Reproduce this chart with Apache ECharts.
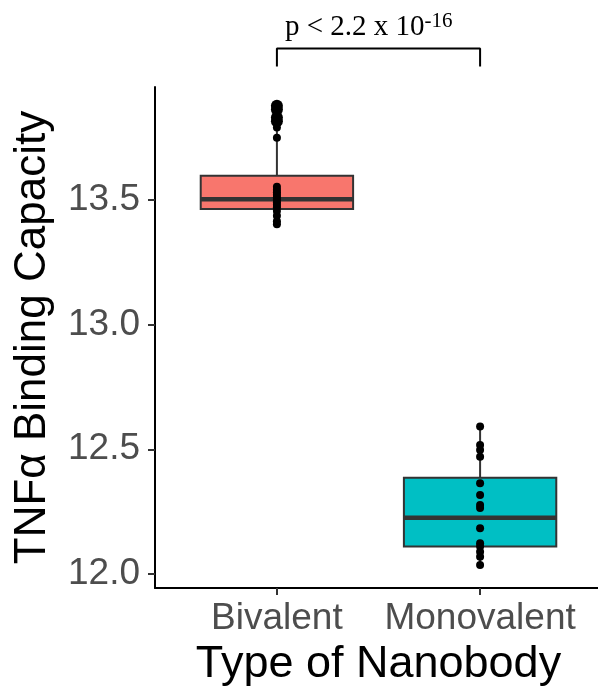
<!DOCTYPE html>
<html lang="en">
<head>
    <meta charset="UTF-8">
    <script src="https://cdn.jsdelivr.net/npm/echarts@6/dist/echarts.min.js"></script>
    <title>TNFa binding</title>
    <style>
        html, body { margin: 0; padding: 0; background: #fff; }
        #chart { width: 598px; height: 691px; }
    </style>
</head>
<body>
    <div id="chart"></div>
    <script>
        // categories and box stats: [min, Q1, median, Q3, max]
        let categories = ['Bivalent', 'Monovalent'];
        let boxColors = ['#F8766D', '#00BFC4'];
        let bivalentBox = [13.40, 13.463, 13.502, 13.596, 13.79];
        let monovalentBox = [12.036, 12.11, 12.226, 12.386, 12.591];

        // individual measurements
        let bivalentPoints = [13.79, 13.749, 13.552, 13.54, 13.53, 13.52, 13.51, 13.50, 13.49,
            13.48, 13.47, 13.455, 13.436, 13.414, 13.402];
        let bivalentOutliers = [13.877, 13.862, 13.83, 13.815];
        let monovalentPoints = [12.591, 12.517, 12.497, 12.47, 12.364, 12.317, 12.277, 12.265,
            12.183, 12.123, 12.11, 12.089, 12.069, 12.036];

        let yTicks = [12.0, 12.5, 13.0, 13.5];
        let bracketX = [1, 1, 2, 2];
        let bracketY = [14.034, 14.106, 14.106, 14.034];

        let font = '"Liberation Sans", Arial, Helvetica, sans-serif';
        let serif = '"Liberation Serif", "Times New Roman", serif';

        function toPairs(x, values) {
            return values.map(function (v) { return [x, v]; });
        }

        let boxData = [[1].concat(bivalentBox), [2].concat(monovalentBox)];

        function renderBox(params, api) {
            let x = api.value(0);
            let half = api.size([0.75, 0])[0] / 2;
            let pMin = api.coord([x, api.value(1)]);
            let pQ1 = api.coord([x, api.value(2)]);
            let pMed = api.coord([x, api.value(3)]);
            let pQ3 = api.coord([x, api.value(4)]);
            let pMax = api.coord([x, api.value(5)]);
            let stroke = { stroke: '#333333', lineWidth: 2 };
            return {
                type: 'group',
                children: [
                    { type: 'line', shape: { x1: pQ3[0], y1: pQ3[1], x2: pMax[0], y2: pMax[1] }, style: stroke },
                    { type: 'line', shape: { x1: pQ1[0], y1: pQ1[1], x2: pMin[0], y2: pMin[1] }, style: stroke },
                    {
                        type: 'rect',
                        shape: { x: pQ3[0] - half, y: pQ3[1], width: half * 2, height: pQ1[1] - pQ3[1] },
                        style: { fill: boxColors[params.dataIndex], stroke: '#333333', lineWidth: 2 }
                    },
                    {
                        type: 'line',
                        shape: { x1: pMed[0] - half, y1: pMed[1], x2: pMed[0] + half, y2: pMed[1] },
                        style: { stroke: '#333333', lineWidth: 4.5 }
                    }
                ]
            };
        }

        let option = {
            backgroundColor: '#fff',
            animation: false,
            title: {
                left: 280,
                top: 6,
                text: '{m|p < 2.2 x 10}{s|-16}',
                textStyle: {
                    rich: {
                        m: { fontFamily: serif, fontSize: 29, fontWeight: 'normal', color: '#000', lineHeight: 32 },
                        s: { fontFamily: serif, fontSize: 21, fontWeight: 'normal', color: '#000', verticalAlign: 'top', padding: [0, 0, 12, 0] }
                    }
                }
            },
            grid: {
                left: 155,
                right: -4,
                top: 87,
                bottom: 103,
                outerBoundsMode: 'none'
            },
            xAxis: {
                type: 'value',
                min: 0.4,
                max: 2.6,
                splitLine: { show: false },
                axisLine: { show: true, lineStyle: { color: '#000', width: 2 } },
                axisTick: { show: true, customValues: [1, 2], length: 7, lineStyle: { color: '#333', width: 2 } },
                axisLabel: {
                    customValues: [1, 2],
                    formatter: function (v) { return categories[Math.round(v) - 1]; },
                    color: '#4D4D4D',
                    fontSize: 37,
                    fontFamily: font,
                    margin: 12
                },
                name: 'Type of Nanobody',
                nameLocation: 'middle',
                nameGap: 53,
                nameTextStyle: { color: '#000', fontSize: 45, fontFamily: font }
            },
            yAxis: {
                type: 'value',
                min: 11.944,
                max: 13.952,
                splitLine: { show: false },
                axisLine: { show: true, lineStyle: { color: '#000', width: 2 } },
                axisTick: { show: true, customValues: yTicks, length: 7, lineStyle: { color: '#333', width: 2 } },
                axisLabel: {
                    customValues: yTicks,
                    formatter: function (v) { return v.toFixed(1); },
                    color: '#4D4D4D',
                    fontSize: 37,
                    fontFamily: font,
                    margin: 15
                },
                name: 'TNFα Binding Capacity',
                nameLocation: 'middle',
                nameRotate: 90,
                nameGap: 100,
                nameTextStyle: { color: '#000', fontSize: 44, fontFamily: font }
            },
            series: [
                {
                    type: 'custom',
                    renderItem: renderBox,
                    data: boxData,
                    encode: { x: 0, y: [1, 2, 3, 4, 5] },
                    z: 2
                },
                {
                    type: 'scatter',
                    data: toPairs(1, bivalentPoints).concat(toPairs(2, monovalentPoints)),
                    symbolSize: 8,
                    itemStyle: { color: '#000', opacity: 1 },
                    z: 3
                },
                {
                    type: 'scatter',
                    data: toPairs(1, bivalentOutliers),
                    symbolSize: 12,
                    itemStyle: { color: '#000', opacity: 1 },
                    z: 3
                },
                {
                    type: 'line',
                    data: bracketX.map(function (x, i) { return [x, bracketY[i]]; }),
                    clip: false,
                    showSymbol: false,
                    symbol: 'none',
                    lineStyle: { color: '#000', width: 2 },
                    silent: true,
                    z: 3
                }
            ]
        };

        let myChart = echarts.init(document.getElementById('chart'));
        myChart.setOption(option);
    </script>
</body>
</html>
